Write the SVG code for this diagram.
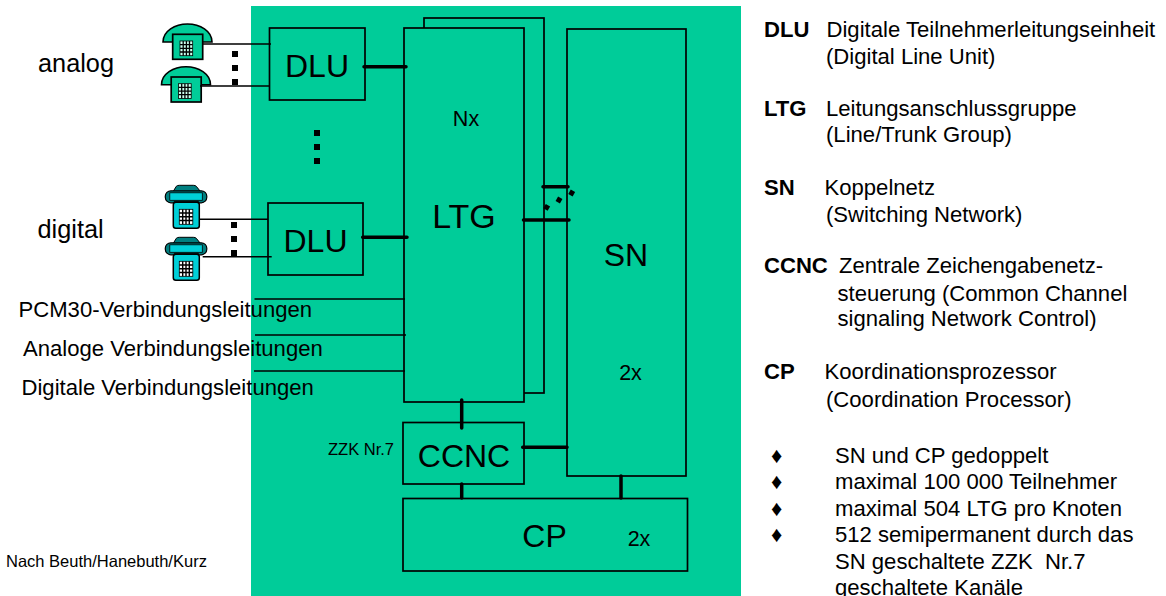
<svg xmlns="http://www.w3.org/2000/svg" width="1166" height="596" viewBox="0 0 1166 596">
<style>
text{font-family:"Liberation Sans",Arial,sans-serif;fill:#000;white-space:pre}
.box{fill:#00cc99;stroke:#000;stroke-width:1.7}
.thin{stroke:#000;stroke-width:1.5;fill:none}
.thick{stroke:#000;stroke-width:3.5;fill:none;stroke-linecap:round}
.big{font-size:32px;text-anchor:middle}
.lbl{font-size:22.1px}
.mid{font-size:21.5px}
.small{font-size:16.5px}
.leg{font-size:22.1px}
.b{font-weight:bold}
.dot{fill:#000}
</style>
<defs>
<g id="phoneA">
<path d="M0 18 C0 7 12 0 24.500 0 C37 0 49 7 49 18 Z" fill="#00cc99" stroke="#000" stroke-width="1.6"/>
<rect x="9.700" y="10.300" width="30" height="25" fill="#00cc99" stroke="#000" stroke-width="1.7"/>
<rect x="17" y="17" width="12.700" height="14.700" fill="#cfe" stroke="#000" stroke-width="0.800"/>
<path d="M17 20.700H29.700M17 24.400H29.700M17 28H29.700M20.200 17V31.700M23.400 17V31.700M26.500 17V31.700" stroke="#000" stroke-width="1.300"/>
</g>
<g id="phoneD">
<path d="M8 6 L11 1 Q12 0 14 0 H28 Q30 0 31 1 L35 6 V9 H8 Z" fill="#007f80" stroke="#000" stroke-width="1"/>
<rect x="0" y="5.500" width="41.500" height="12" rx="5.500" fill="#007f80" stroke="#000" stroke-width="1.200"/>
<rect x="4.500" y="7.500" width="32.500" height="7.500" fill="#00d0d8" stroke="#000" stroke-width="0.800"/>
<path d="M9 16H33V20H9Z" fill="#007f80" stroke="#000" stroke-width="1"/>
<rect x="8" y="17" width="26" height="26" rx="2.500" fill="#00d0d8" stroke="#000" stroke-width="1.500"/>
<rect x="14" y="24" width="13.500" height="15" fill="#fff" stroke="#000" stroke-width="0.800"/>
<path d="M14 27.700H27.500M14 31.500H27.500M14 35.200H27.500M17.400 24V39M20.700 24V39M24 24V39" stroke="#000" stroke-width="1.400"/>
</g>
</defs>
<rect id="background" x="251" y="6" width="490" height="590" fill="#00cc99"/>
<g id="LTG2"><rect class="box" x="424" y="18" width="120" height="375"/></g>
<g id="LTG"><rect class="box" x="404" y="28" width="120" height="374"/>
<text x="466" y="125.700" class="mid" text-anchor="middle">Nx</text>
<text x="464" y="227.700" class="big" style="font-size:34px">LTG</text></g>
<g id="SN"><rect class="box" x="567" y="29" width="119" height="447"/>
<text x="626" y="265.700" class="big">SN</text>
<text x="630.500" y="380" class="mid" text-anchor="middle">2x</text></g>
<g id="DLU1"><rect class="box" x="269.500" y="28" width="95.500" height="72"/><text x="317" y="76.700" class="big">DLU</text></g>
<g id="DLU2"><rect class="box" x="268" y="203" width="95" height="72"/><text x="315.500" y="251.700" class="big">DLU</text></g>
<g id="CCNC"><rect class="box" x="403" y="422.500" width="121" height="61.500"/><text x="464" y="466.700" class="big">CCNC</text></g>
<g id="CP"><rect class="box" x="403" y="498.500" width="284.500" height="72.500"/><text x="544.500" y="546.700" class="big">CP</text><text x="639" y="545.700" class="mid" text-anchor="middle">2x</text></g>
<g id="phones">
<use href="#phoneA" x="163" y="24"/>
<use href="#phoneA" x="161.500" y="66.700"/>
<use href="#phoneD" x="165.300" y="185.300"/>
<use href="#phoneD" x="165.300" y="237.300"/>
</g>
<g id="connectors">
<path class="thin" d="M203 44H271M200 86H270M200 219.300H268M202.700 256.700H271.700M254.500 299H405M255 335H406M254 371H405"/>
<path class="thick" d="M364 66.700H406M362.700 237.300H407M461.700 400V428M522.700 447.300H567M461.700 484V498M621 476V498M543 186.700H568M523.500 220H569"/>
</g>
<g id="dots">
<g class="dot">
<rect x="232" y="51" width="6" height="6"/><rect x="232" y="65" width="6" height="6"/><rect x="232" y="79" width="6" height="6"/>
<rect x="314" y="130" width="6" height="6"/><rect x="314" y="144" width="6" height="6"/><rect x="314" y="158" width="6" height="6"/>
<rect x="231" y="222" width="6" height="6"/><rect x="231" y="236" width="6" height="6"/><rect x="231" y="250" width="6" height="6"/>
<rect x="-2.500" y="-2.500" width="5" height="5" transform="translate(546.700 207.300) rotate(30)"/>
<rect x="-2.500" y="-2.500" width="5" height="5" transform="translate(559 200) rotate(30)"/>
<rect x="-2.500" y="-2.500" width="5" height="5" transform="translate(571.700 193) rotate(30)"/>
</g>
</g>
<g id="labels">
<text x="38" y="71.500" style="font-size:25.3px">analog</text>
<text x="37.500" y="237.500" style="font-size:25.3px">digital</text>
<text x="18.500" y="316.700" class="lbl">PCM30-Verbindungsleitungen</text>
<text x="23" y="356" class="lbl">Analoge Verbindungsleitungen</text>
<text x="21.500" y="395" class="lbl">Digitale Verbindungsleitungen</text>
<text x="328" y="455" class="small">ZZK Nr.7</text>
<text x="6" y="566.700" class="small">Nach Beuth/Hanebuth/Kurz</text>
</g>
<g id="legend">
<text x="764" y="36.500" class="leg b">DLU</text><text x="826.500" y="36.500" class="leg">Digitale Teilnehmerleitungseinheit</text>
<text x="826" y="63.500" class="leg">(Digital Line Unit)</text>
<text x="764" y="115.600" class="leg b">LTG</text><text x="826" y="115.600" class="leg">Leitungsanschlussgruppe</text>
<text x="826" y="142" class="leg">(Line/Trunk Group)</text>
<text x="764" y="195" class="leg b">SN</text><text x="824.500" y="195" class="leg">Koppelnetz</text>
<text x="826" y="221.600" class="leg">(Switching Network)</text>
<text x="764" y="273" class="leg b">CCNC</text><text x="839" y="273" class="leg">Zentrale Zeichengabenetz-</text>
<text x="837.500" y="300.500" class="leg">steuerung (Common Channel</text>
<text x="837.500" y="326" class="leg">signaling Network Control)</text>
<text x="764" y="379" class="leg b">CP</text><text x="824.500" y="379" class="leg">Koordinationsprozessor</text>
<text x="826" y="406.700" class="leg">(Coordination Processor)</text>
<text x="771" y="462.700" class="leg">♦</text><text x="835" y="462.700" class="leg">SN und CP gedoppelt</text>
<text x="771" y="489" class="leg">♦</text><text x="835" y="489" class="leg">maximal 100 000 Teilnehmer</text>
<text x="771" y="515.700" class="leg">♦</text><text x="835" y="515.700" class="leg">maximal 504 LTG pro Knoten</text>
<text x="771" y="542" class="leg">♦</text><text x="835" y="542" class="leg">512 semipermanent durch das</text>
<text x="835" y="568.500" class="leg">SN geschaltete ZZK  Nr.7</text>
<text x="835" y="595" class="leg">geschaltete Kanäle</text>
</g>
</svg>
